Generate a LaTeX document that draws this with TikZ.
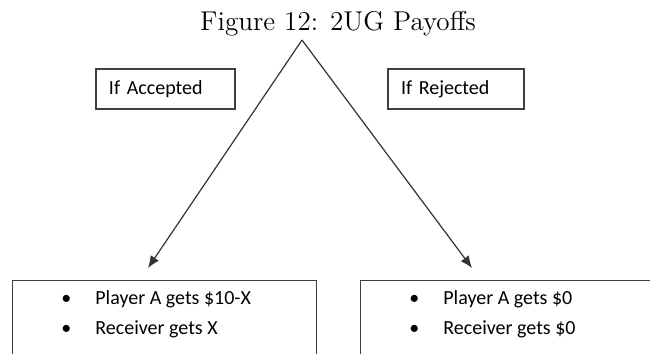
\documentclass[tikz,border=0pt]{standalone}
\usepackage{fontspec}
\newfontfamily\calibri{Carlito}
\usetikzlibrary{arrows.meta,positioning}
\newcommand\paybullet{\makebox[17pt][l]{\textbullet}}

\begin{document}
\begin{tikzpicture}[x=0.5pt,y=-0.5pt,
    choice box/.style={draw=black!75, line width=0.6pt, inner xsep=6.5pt, minimum height=20pt, align=left, font=\calibri\fontsize{10}{12}\selectfont},
    pay box/.style={draw=black!75, line width=0.6pt, anchor=north west, minimum height=75pt, inner sep=0pt},
    pay text/.style={anchor=north west, inner sep=0pt, align=left, font=\calibri\fontsize{10}{15}\selectfont},
    >={Latex[length=6pt,width=5pt]}]
        \clip (0,0) rectangle (650,354);
        \node[anchor=base, font=\fontsize{13.6}{16}\selectfont] (title) at (338,30) {Figure 12: 2UG Payoffs};
        \coordinate (apex) at (302,40);
        \coordinate (accend) at (148,268);
        \coordinate (rejend) at (472,268);
        \node[choice box, text width=56.5pt] (accepted) at (165.5,89) {If Accepted};
        \node[choice box, text width=55pt] (rejected) at (456,89) {If Rejected};
        \node[pay box, minimum width=152pt] (accbox) at (12,280) {};
        \node[pay box, minimum width=160pt] (rejbox) at (360,280) {};
        \node[pay text, below right=5pt and 24.5pt of accbox.north west] (accpay) {\paybullet Player A gets \$10-X\\ \paybullet Receiver gets X};
        \node[pay text, below right=5pt and 24.5pt of rejbox.north west] (rejpay) {\paybullet Player A gets \$0\\ \paybullet Receiver gets \$0};
        \draw[->, line width=0.6pt, black!80] (apex) -- (accend) ;
        \draw[->, line width=0.6pt, black!80] (apex) -- (rejend) ;
\end{tikzpicture}
\end{document}
